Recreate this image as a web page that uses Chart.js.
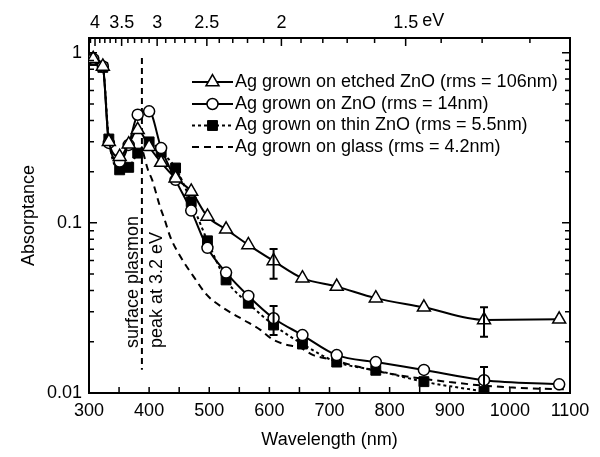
<!DOCTYPE html>
<html>
<head>
<meta charset="utf-8">
<script src="https://cdn.jsdelivr.net/npm/chart.js@4.4.0/dist/chart.umd.min.js"></script>
<style>
  html, body { margin: 0; padding: 0; background: #fff; }
</style>
</head>
<body>
<canvas id="c" width="600" height="457"></canvas>
<script>
// wavelength grid of the three marked spectra (nm)
const wavelengths = [307, 323, 333, 351, 366, 381, 400, 420, 444, 470, 497, 528, 565, 607, 655, 712, 777, 857, 957, 1082];
const etchedZnO = [0.92, 0.83, 0.30, 0.245, 0.29, 0.352, 0.28, 0.226, 0.183, 0.153, 0.109, 0.0916, 0.0742, 0.0597, 0.0473, 0.0422, 0.0361, 0.0319, 0.0269, 0.0271];
const flatZnO = [0.92, 0.83, 0.295, 0.229, 0.287, 0.432, 0.452, 0.275, 0.179, 0.118, 0.0713, 0.051, 0.0372, 0.0275, 0.0219, 0.0167, 0.0152, 0.01366, 0.0119, 0.01125];
const thinZnO = [0.90, 0.82, 0.311, 0.205, 0.212, 0.257, 0.299, 0.260, 0.210, 0.133, 0.0784, 0.0462, 0.0337, 0.0251, 0.0194, 0.0152, 0.0136, 0.01166, 0.0102];

// glass curve has no markers
const glassWl = [390, 398, 405, 418, 426, 435, 452, 474, 496, 524, 557, 585, 605, 624, 652, 673, 700, 750, 800, 850, 900, 950, 1000, 1050, 1095];
const glassAbs = [0.26, 0.205, 0.179, 0.125, 0.104, 0.083, 0.0634, 0.0483, 0.0377, 0.0315, 0.0269, 0.0235, 0.0207, 0.0194, 0.0184, 0.0167, 0.0158, 0.0142, 0.013, 0.0122, 0.0116, 0.0111, 0.0108, 0.0106, 0.0105];

// error bars
const errWl = [607, 957];
const etchedErrHi = [0.0703, 0.0319];
const etchedErrLo = [0.0469, 0.0214];
const flatErrHi = [0.0325, 0.0142];
const flatErrLo = [0.0219, 0.0100];

// surface plasmon marker line
const plasmonWl = 388;
const plasmonRange = [0.93, 0.0137];

const seriesLabels = [
  'Ag grown on etched ZnO (rms = 106nm)',
  'Ag grown on ZnO (rms = 14nm)',
  'Ag grown on thin ZnO (rms = 5.5nm)',
  'Ag grown on glass (rms = 4.2nm)'
];

const xTicks = [300, 400, 500, 600, 700, 800, 900, 1000, 1100];
const yTicks = [0.01, 0.1, 1];
const yTickLabels = ['0.01', '0.1', '1'];
const evTicks = [4, 3.5, 3, 2.5, 2, 1.5];

const FONT = '"Liberation Sans", Arial, sans-serif';
const FS = 18;
Chart.defaults.font.family = FONT;
Chart.defaults.color = '#000';

const pts = (xs, ys) => ys.map((y, i) => ({ x: xs[i], y: y }));

const frame = { display: true, color: '#000', width: 2 };

// inward ticks on all four sides
const tickPlugin = {
  id: 'inwardTicks',
  afterDraw(chart) {
    const ctx = chart.ctx;
    const a = chart.chartArea;
    const xs = chart.scales.x, ys = chart.scales.y;
    ctx.save();
    ctx.strokeStyle = '#000';
    ctx.lineWidth = 1.5;
    ctx.beginPath();
    for (let w = 300; w <= 1100; w += 50) {
      const px = xs.getPixelForValue(w);
      ctx.moveTo(px, a.bottom); ctx.lineTo(px, a.bottom - 6);
    }
    for (let d = 0.01; d < 2; d *= 10) {
      for (let k = 1; k <= 9; k++) {
        const v = k * d;
        if (v > 1.22) break;
        const py = ys.getPixelForValue(v);
        const len = k === 1 ? 8 : 5;
        ctx.moveTo(a.left, py); ctx.lineTo(a.left + len, py);
        ctx.moveTo(a.right, py); ctx.lineTo(a.right - len, py);
      }
    }
    for (let e = 41; e >= 12; e--) {
      const px = xs.getPixelForValue(1240 / (e / 10));
      const len = e % 5 === 0 ? 8 : 5;
      ctx.moveTo(px, a.top); ctx.lineTo(px, a.top + len);
    }
    ctx.stroke();
    ctx.restore();
  }
};

// error bars, legend and annotation
const extrasPlugin = {
  id: 'extras',
  afterDatasetsDraw(chart) {
    const ctx = chart.ctx;
    const xs = chart.scales.x, ys = chart.scales.y;
    ctx.save();
    ctx.strokeStyle = '#000';
    ctx.lineWidth = 2;
    const bars = (hi, lo) => {
      errWl.forEach((w, i) => {
        const px = xs.getPixelForValue(w);
        const top = ys.getPixelForValue(hi[i]);
        const bot = ys.getPixelForValue(lo[i]);
        ctx.beginPath();
        ctx.moveTo(px, top); ctx.lineTo(px, bot);
        ctx.moveTo(px - 4, top); ctx.lineTo(px + 4, top);
        ctx.moveTo(px - 4, bot); ctx.lineTo(px + 4, bot);
        ctx.stroke();
      });
    };
    bars(etchedErrHi, etchedErrLo);
    bars(flatErrHi, flatErrLo);

    // legend
    const rowY = [82, 104, 125.5, 147];
    const x0 = 192, x1 = 233;
    ctx.font = FS + 'px ' + FONT;
    ctx.textBaseline = 'middle';
    ctx.textAlign = 'left';
    chart.data.datasets.slice(0, 4).forEach((ds, i) => {
      const y = rowY[i];
      ctx.save();
      ctx.lineWidth = ds.borderWidth;
      ctx.setLineDash(ds.borderDash || []);
      ctx.beginPath();
      ctx.moveTo(x0, y); ctx.lineTo(x1, y);
      ctx.stroke();
      ctx.restore();
      if (ds.pointRadius > 0) {
        ctx.save();
        ctx.fillStyle = ds.pointBackgroundColor;
        ctx.strokeStyle = '#000';
        ctx.lineWidth = ds.pointBorderWidth;
        Chart.helpers.drawPoint(ctx, { pointStyle: ds.pointStyle, radius: ds.pointRadius, rotation: 0, borderWidth: ds.pointBorderWidth }, (x0 + x1) / 2, y);
        ctx.restore();
      }
      ctx.fillStyle = '#000';
      ctx.fillText(ds.label, x1 + 2, y);
    });

    // rotated annotation beside the plasmon line
    const lx = xs.getPixelForValue(plasmonWl);
    const ly = 348;
    ctx.fillStyle = '#000';
    ctx.textAlign = 'left';
    [['surface plasmon', -9], ['peak at 3.2 eV', 15]].forEach(([t, dx]) => {
      ctx.save();
      ctx.translate(lx + dx, ly);
      ctx.rotate(-Math.PI / 2);
      ctx.fillText(t, 0, 0);
      ctx.restore();
    });

    // unit after the last top label
    const ex = xs.getPixelForValue(1240 / 1.5);
    ctx.fillText('eV', ex + ctx.measureText('1.5').width / 2 + 4, 21);
    ctx.restore();
  }
};

new Chart(document.getElementById('c'), {
  type: 'line',
  data: {
    datasets: [
      {
        label: seriesLabels[0], data: pts(wavelengths, etchedZnO),
        borderColor: '#000', borderWidth: 2, pointStyle: 'triangle', pointRadius: 7.5,
        pointBackgroundColor: '#fff', pointBorderColor: '#000', pointBorderWidth: 1.5,
        cubicInterpolationMode: 'monotone'
      },
      {
        label: seriesLabels[1], data: pts(wavelengths, flatZnO),
        borderColor: '#000', borderWidth: 2, pointStyle: 'circle', pointRadius: 5.5,
        pointBackgroundColor: '#fff', pointBorderColor: '#000', pointBorderWidth: 1.5,
        cubicInterpolationMode: 'monotone'
      },
      {
        label: seriesLabels[2], data: pts(wavelengths, thinZnO),
        borderColor: '#000', borderWidth: 2, borderDash: [3, 3], pointStyle: 'rect', pointRadius: 7,
        pointBackgroundColor: '#000', pointBorderColor: '#000', pointBorderWidth: 1,
        cubicInterpolationMode: 'monotone'
      },
      {
        label: seriesLabels[3], data: pts(glassWl, glassAbs),
        borderColor: '#000', borderWidth: 2, borderDash: [7, 5], pointRadius: 0,
        cubicInterpolationMode: 'monotone'
      },
      {
        label: '', data: plasmonRange.map(v => ({ x: plasmonWl, y: v })),
        borderColor: '#000', borderWidth: 2, borderDash: [6, 4], pointRadius: 0
      }
    ]
  },
  options: {
    responsive: false,
    animation: false,
    layout: { padding: 0 },
    plugins: { legend: { display: false }, tooltip: { enabled: false } },
    scales: {
      x: {
        type: 'linear', min: 300, max: 1100, position: 'bottom',
        afterBuildTicks: s => { s.ticks = xTicks.map(v => ({ value: v })); },
        afterFit: s => { s.height = 64; },
        grid: { display: false, drawTicks: false },
        border: frame,
        ticks: { padding: 7, autoSkip: false, maxRotation: 0, font: { size: FS },
          callback: v => String(v) },
        title: { display: true, text: 'Wavelength (nm)', font: { size: FS }, padding: { top: 6, bottom: 6 } }
      },
      x2: {
        type: 'linear', min: 300, max: 1100, position: 'top',
        afterBuildTicks: s => { s.ticks = evTicks.map(e => ({ value: 1240 / e })); },
        afterFit: s => { s.height = 38; },
        grid: { display: false, drawTicks: false },
        border: frame,
        ticks: { padding: 4, autoSkip: false, maxRotation: 0, font: { size: FS },
          callback: (v, i) => String(evTicks[i]) }
      },
      y: {
        type: 'logarithmic', min: 0.01, max: 1.22, position: 'left',
        afterBuildTicks: s => { s.ticks = yTicks.map(v => ({ value: v })); },
        afterFit: s => { s.width = 89; },
        grid: { display: false, drawTicks: false },
        border: frame,
        ticks: { padding: 7, autoSkip: false, font: { size: FS }, callback: (v, i) => yTickLabels[i] },
        title: { display: true, text: 'Absorptance', font: { size: FS }, padding: { top: 18, bottom: 18 } }
      },
      y2: {
        type: 'logarithmic', min: 0.01, max: 1.22, position: 'right',
        afterFit: s => { s.width = 30; },
        grid: { display: false, drawTicks: false },
        border: frame,
        ticks: { display: false }
      }
    }
  },
  plugins: [tickPlugin, extrasPlugin]
});
</script>
</body>
</html>
